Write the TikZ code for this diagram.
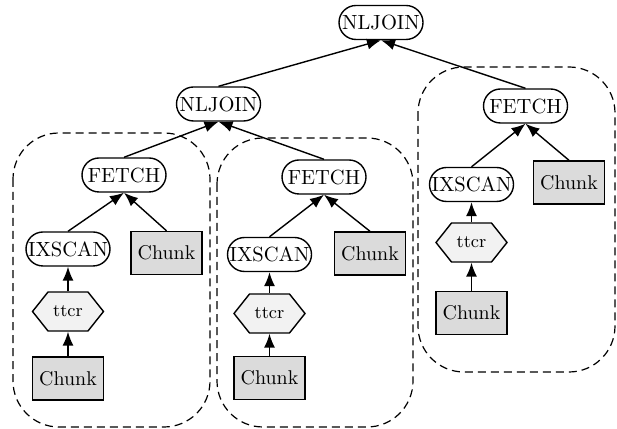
\documentclass[tikz,border=0pt]{standalone}
\usetikzlibrary{shapes.symbols,arrows.meta}
\begin{document}
\begin{tikzpicture}[x=0.5bp,y=-0.5bp,
  op/.style={draw, line width=0.7bp, rounded corners=8.5bp, minimum width=42bp, minimum height=17bp, inner sep=0.5bp, font=\fontsize{10.3}{12}\selectfont},
  chunk/.style={draw, line width=0.7bp, fill=gray!28, minimum width=35.5bp, minimum height=21.5bp, inner sep=1bp, font=\fontsize{10}{12}\selectfont},
  hex/.style={signal, signal to=east and west, draw, line width=0.7bp, fill=gray!10, minimum width=35.5bp, minimum height=19.5bp, signal pointer angle=103, inner sep=0.5bp, font=\small},
  grp/.style={draw, dash pattern=on 4bp off 2.5bp, line width=0.6bp, rounded corners=23bp},
  arr/.style={-{Latex[length=7bp,width=5.5bp]}, line width=0.7bp}]
\useasboundingbox (0,0) rectangle (617,429);

% group frames
\draw[grp] (13,133) rectangle (210,427);
\draw[grp] (217,138) rectangle (413,427);
\draw[grp] (418,67) rectangle (615,372);

% top
\node[op] (top) at (381,22.5) {NLJOIN};
\node[op] (mid) at (218.5,104) {NLJOIN};

% left group
\node[op] (lf) at (124,175) {FETCH};
\node[op] (lx) at (68,249) {IXSCAN};
\node[chunk] (lc) at (166.5,253) {Chunk};
\node[hex] (lt) at (68,311.5) {ttcr};
\node[chunk] (lb) at (68,378.5) {Chunk};

% middle group
\node[op] (mf) at (324,177) {FETCH};
\node[op] (mx) at (269.5,254.5) {IXSCAN};
\node[chunk] (mc) at (370,253.5) {Chunk};
\node[hex] (mt) at (269.5,313.5) {ttcr};
\node[chunk] (mb) at (269.5,378) {Chunk};

% right group
\node[op] (rf) at (525.5,106) {FETCH};
\node[op] (rx) at (471.5,184.5) {IXSCAN};
\node[chunk] (rc) at (569,182.5) {Chunk};
\node[hex] (rt) at (471.5,242.5) {ttcr};
\node[chunk] (rb) at (471.5,313) {Chunk};

% edges
\draw[arr] (mid.north) -- (top.south);
\draw[arr] (rf.north) -- (top.south);
\draw[arr] (lf.north) -- (mid.south);
\draw[arr] (mf.north) -- (mid.south);

\draw[arr] (lx.north) -- (lf.south);
\draw[arr] (lc.north) -- (lf.south);
\draw[arr] (lt.north) -- (lx.south);
\draw[arr] (lb.north) -- (lt.south);

\draw[arr] (mx.north) -- (mf.south);
\draw[arr] (mc.north) -- (mf.south);
\draw[arr] (mt.north) -- (mx.south);
\draw[arr] (mb.north) -- (mt.south);

\draw[arr] (rx.north) -- (rf.south);
\draw[arr] (rc.north) -- (rf.south);
\draw[arr] (rt.north) -- (rx.south);
\draw[arr] (rb.north) -- (rt.south);
\end{tikzpicture}
\end{document}
